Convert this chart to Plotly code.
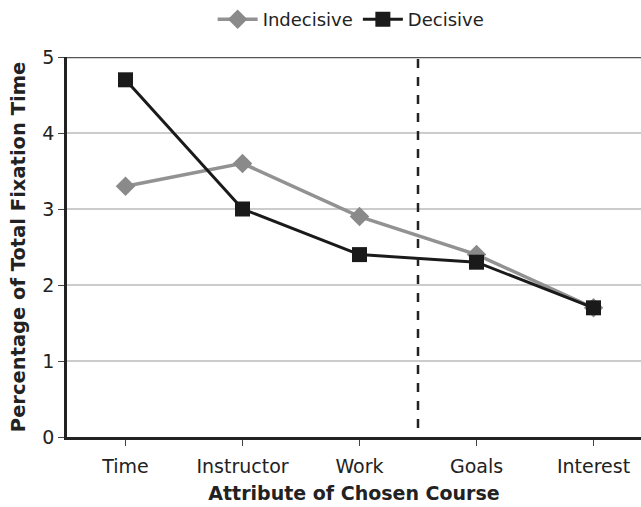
import plotly.graph_objects as go

attributes = ["Time", "Instructor", "Work", "Goals", "Interest"]
indecisive = [3.3, 3.6, 2.9, 2.4, 1.7]
decisive = [4.7, 3.0, 2.4, 2.3, 1.7]
y_ticks = [0, 1, 2, 3, 4, 5]

font_family = "DejaVu Sans, Verdana, sans-serif"

fig = go.Figure()
fig.add_trace(go.Scatter(
    x=list(range(len(attributes))), y=indecisive, name="Indecisive",
    mode="lines+markers",
    line=dict(color="#929292", width=3.5),
    marker=dict(symbol="diamond", size=15, color="#8a8a8a"),
))
fig.add_trace(go.Scatter(
    x=list(range(len(attributes))), y=decisive, name="Decisive",
    mode="lines+markers",
    line=dict(color="#1a1a1a", width=3),
    marker=dict(symbol="square", size=15, color="#1a1a1a"),
))

# top border of the plotting area
fig.add_shape(type="line", xref="paper", yref="y", x0=0, x1=1, y0=5, y1=5,
              line=dict(color="#555555", width=2.5), layer="below")
# divider between the attribute groups
fig.add_shape(type="line", xref="x", yref="y", x0=2.5, x1=2.5, y0=-0.12, y1=5,
              line=dict(color="#222222", width=2.5, dash="dash"))

fig.update_layout(
    width=641, height=507,
    margin=dict(l=67, r=0, t=57, b=70),
    paper_bgcolor="white", plot_bgcolor="white",
    font=dict(family=font_family, size=19, color="#222222"),
    showlegend=True,
    legend=dict(orientation="h", x=0.495, xanchor="center", y=0.925, yanchor="bottom",
                yref="container", font=dict(size=18), traceorder="normal",
                itemwidth=40),
    xaxis=dict(
        range=[-0.5, 4.406],
        tickmode="array", tickvals=list(range(len(attributes))), ticktext=attributes,
        tickson="boundaries", ticks="outside", ticklen=6, tickcolor="#444444",
        showline=True, linecolor="#222222", linewidth=2.5,
        showgrid=False, zeroline=False,
        tickfont=dict(size=19), ticklabelstandoff=4,
        title=dict(text="<b>Attribute of Chosen Course</b>", font=dict(size=19), standoff=12),
    ),
    yaxis=dict(
        range=[0, 5],
        tickvals=y_ticks,
        ticks="outside", ticklen=6, tickcolor="#444444",
        showline=True, linecolor="#222222", linewidth=2.5,
        showgrid=True, gridcolor="#cccccc", gridwidth=1.5,
        zeroline=False,
        tickfont=dict(size=19),
        title=dict(text="<b>Percentage of Total Fixation Time</b>", font=dict(size=19.5), standoff=12),
    ),
)

fig.write_html("out.html")
